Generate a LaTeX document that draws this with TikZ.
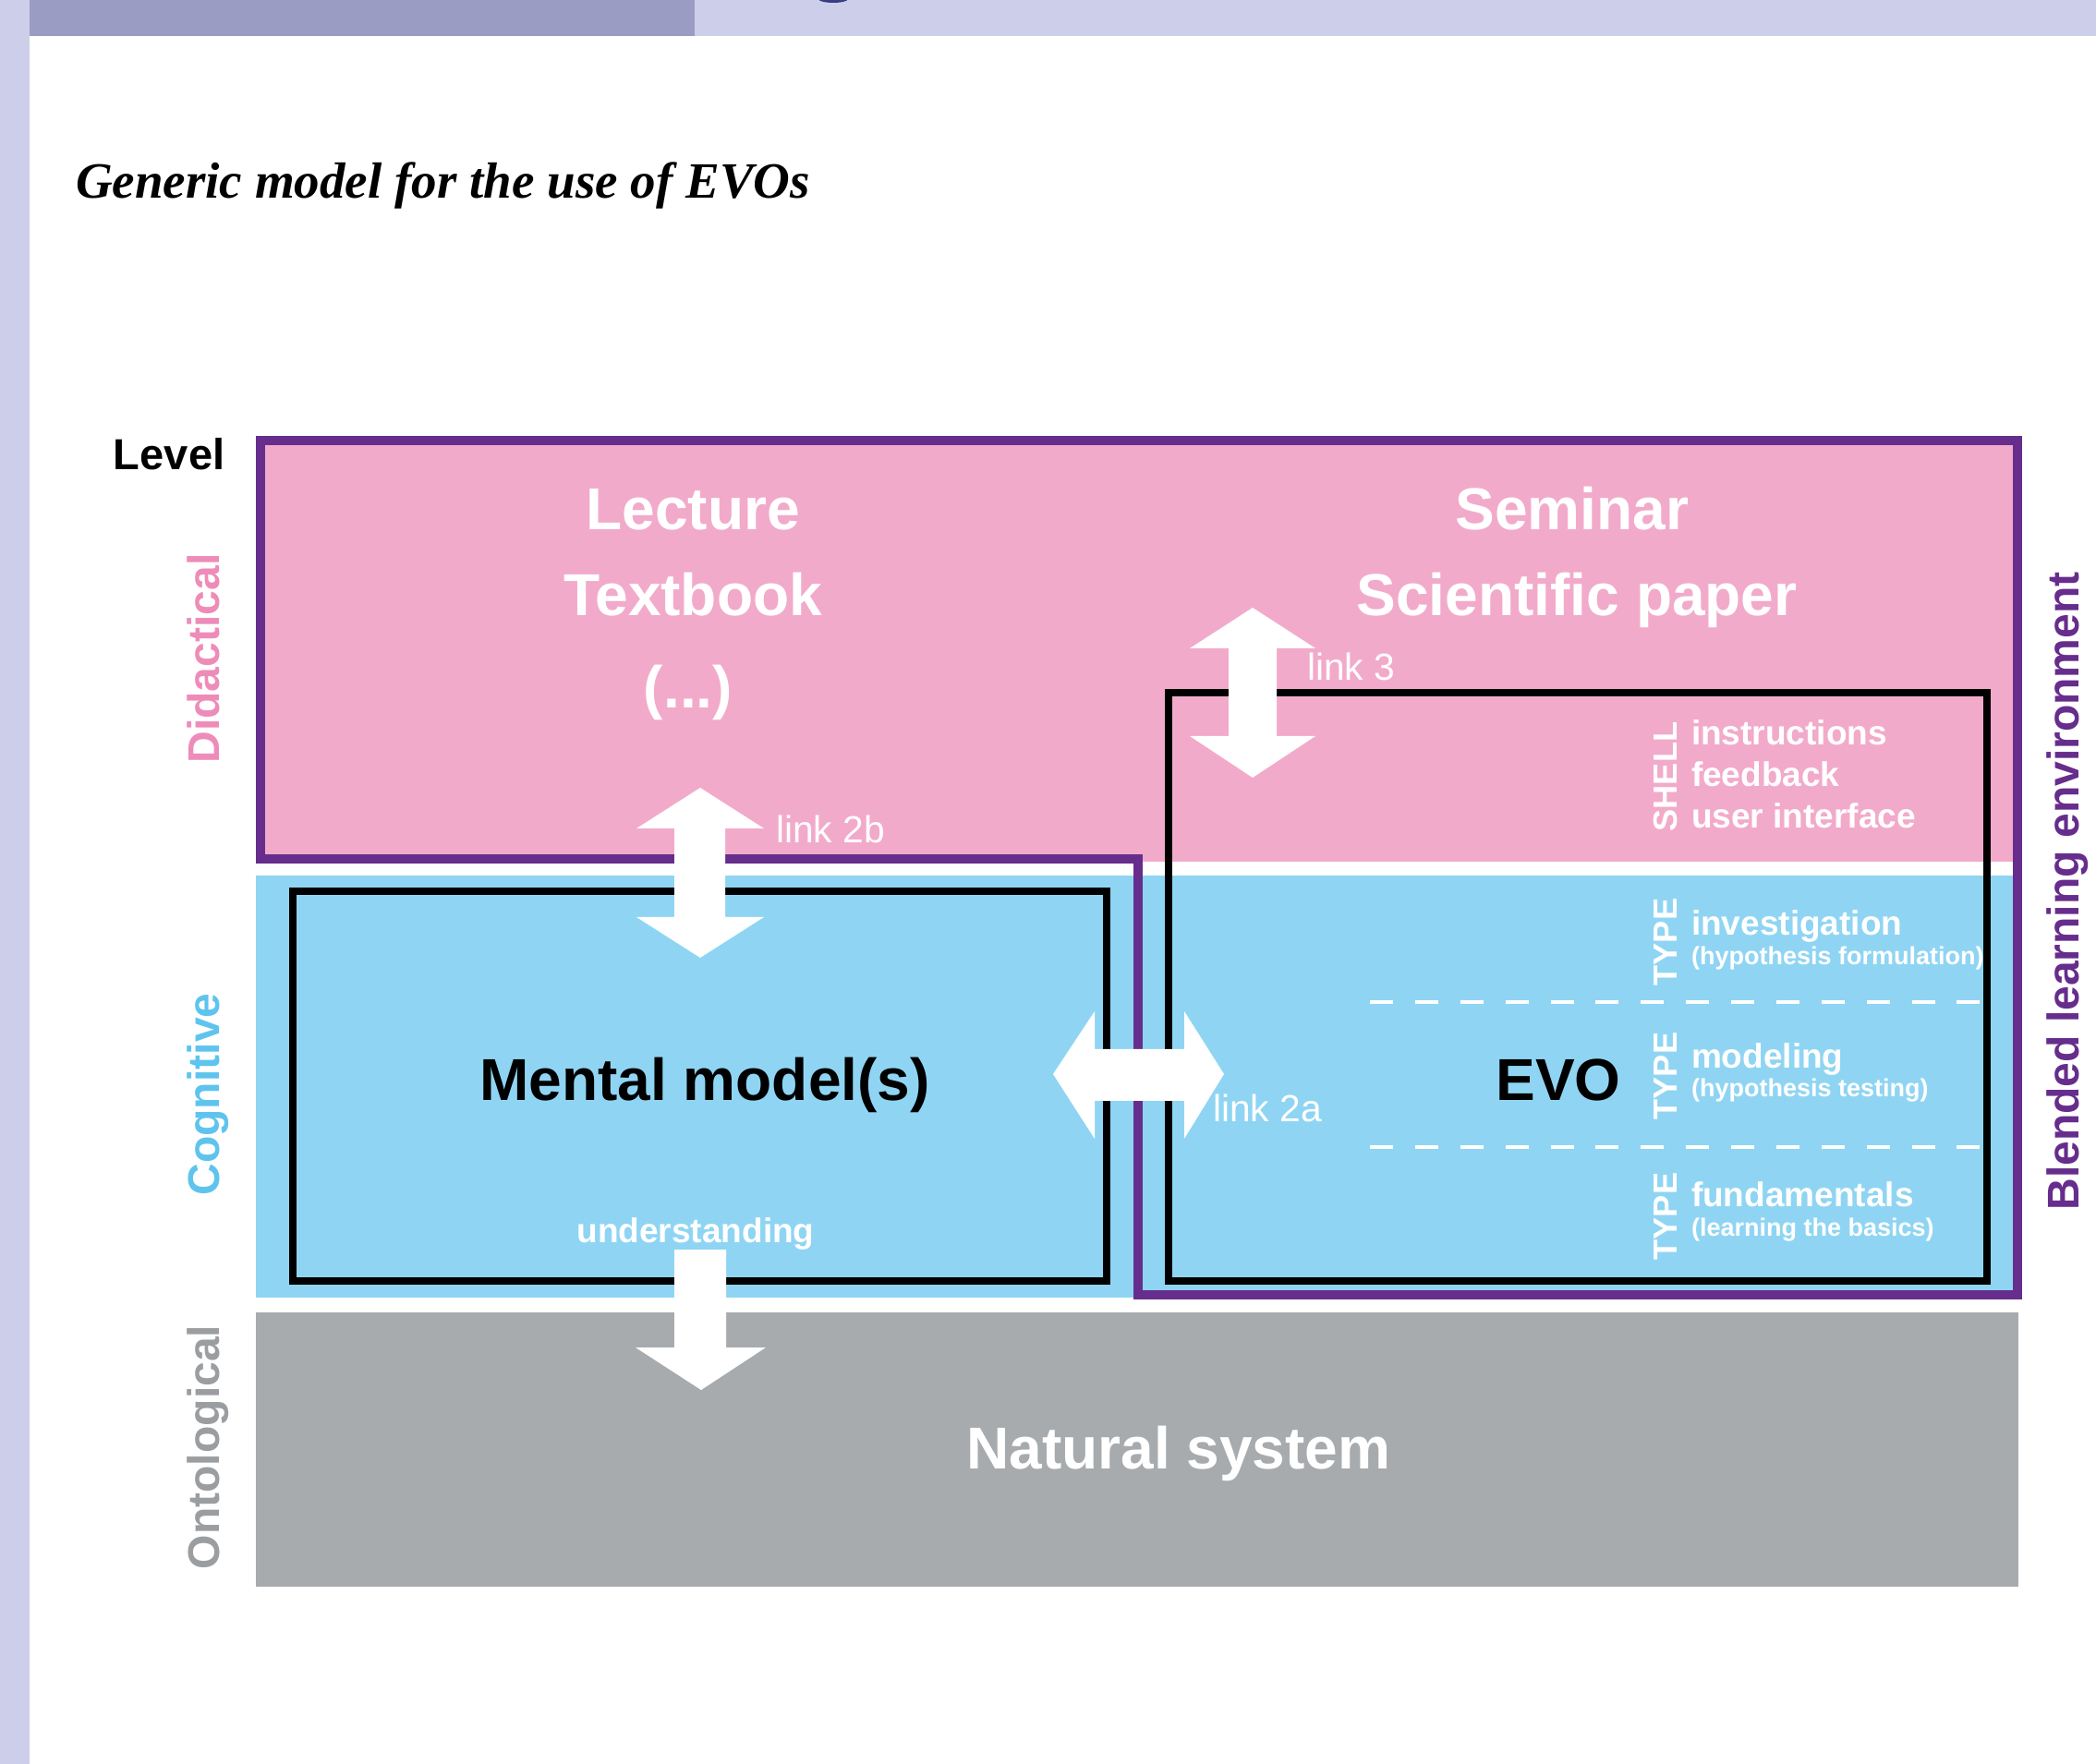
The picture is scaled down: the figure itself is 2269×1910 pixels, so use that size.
\documentclass[tikz,border=0pt]{standalone}
\usepackage{fontspec}
\setmainfont{Liberation Sans}
\newfontfamily\serifttl{Liberation Serif}
\definecolor{pinkfill}{HTML}{F2AACB}
\definecolor{bluefill}{HTML}{8FD5F3}
\definecolor{grayfill}{HTML}{A7ABAE}
\definecolor{purp}{HTML}{662D8C}
\definecolor{bardark}{HTML}{9A9CC4}
\definecolor{barlight}{HTML}{CDCFEA}
\definecolor{dotnavy}{HTML}{3A3C84}
\definecolor{didtext}{HTML}{EE8CB9}
\definecolor{cogtext}{HTML}{5EC4EE}
\definecolor{onttext}{HTML}{9B9EA1}
\begin{document}
\begin{tikzpicture}[x=0.01cm,y=-0.01cm,
  every node/.style={inner sep=0pt,outer sep=0pt},
  bigtxt/.style={font=\fontsize{18.21}{20}\selectfont\bfseries,anchor=base},
  leveltxt/.style={font=\fontsize{13.66}{15}\selectfont\bfseries,rotate=90,anchor=base},
  linktxt/.style={font=\fontsize{11.6}{13}\selectfont,text=white,anchor=base west},
  itemtxt/.style={font=\fontsize{10.53}{12}\selectfont\bfseries,text=white,anchor=base west},
  subtxt/.style={font=\fontsize{7.68}{9}\selectfont\bfseries,text=white,anchor=base west},
  tagtxt/.style={font=\fontsize{10.3}{12}\selectfont\bfseries,text=white,rotate=90,anchor=base},
  blackbox/.style={draw=black,line width=2.28pt},
  purpline/.style={draw=purp,line width=2.85pt,line join=miter},
  dashline/.style={draw=white,line width=1.2pt,dash pattern=on 7.1pt off 6.8pt},
  whitearrow/.style={fill=white}
]
\useasboundingbox (0,0) rectangle (2269,1910);
\fill[white] (0,0) rectangle (2269,1910);
% page frame
\fill[barlight] (0,0) rectangle (32,1910);
\fill[barlight] (32,0) rectangle (2269,39);
\fill[bardark] (32,0) rectangle (752,39);
\fill[dotnavy] (902,-1) ellipse [x radius=16, y radius=4];
% title
\node[anchor=base west,font=\serifttl\bfseries\itshape\fontsize{15.65}{18}\selectfont] (title) at (82,215) {Generic model for the use of EVOs};
% level bands
\fill[pinkfill] (282,477) rectangle (2184,933);
\fill[bluefill] (277,948) rectangle (2184,1405);
\fill[grayfill] (277,1421) rectangle (2185,1718);
% blended learning environment outline
\draw[purpline] (282,477) -- (2184,477) -- (2184,1402) -- (1232,1402) -- (1232,930) -- (282,930) -- cycle;
% boxes
\draw[blackbox] (317,965) rectangle (1198,1387);
\draw[blackbox] (1265,750) rectangle (2151,1387);
% dashed separators
\draw[dashline] (1483,1085) -- (2147,1085);
\draw[dashline] (1483,1242) -- (2147,1242);
% arrows
\fill[whitearrow] (758,853) -- (827,897) -- (785,897) -- (785,993) -- (827,993) -- (758,1037) -- (689,993) -- (730,993) -- (730,897) -- (689,897) -- cycle;
\fill[whitearrow] (1356,658) -- (1424,702) -- (1382,702) -- (1382,797) -- (1424,797) -- (1356,842) -- (1288,797) -- (1330,797) -- (1330,702) -- (1288,702) -- cycle;
\fill[whitearrow] (1140,1163) -- (1185,1095) -- (1185,1136) -- (1282,1136) -- (1282,1095) -- (1325,1163) -- (1282,1233) -- (1282,1192) -- (1185,1192) -- (1185,1233) -- cycle;
\fill[whitearrow] (730,1353) -- (786,1353) -- (786,1459) -- (829,1459) -- (759,1505) -- (688,1459) -- (730,1459) -- cycle;
% level labels
\node[font=\fontsize{13.37}{15}\selectfont\bfseries,anchor=base west] (level) at (123,509) {Level};
\node[leveltxt,text=didtext] (did) at (237,713) {Didactical};
\node[leveltxt,text=cogtext] (cog) at (237,1185) {Cognitive};
\node[leveltxt,text=onttext] (ont) at (237,1567) {Ontological};
\node[leveltxt,text=purp] (ble) at (2250,965) {Blended learning environment};
% didactical texts
\node[bigtxt,text=white] (lecture) at (750,574) {Lecture};
\node[bigtxt,text=white] (textbook) at (750,667) {Textbook};
\node[bigtxt,text=white] (etc) at (745,767) {(...)};
\node[bigtxt,text=white] (seminar) at (1702,574) {Seminar};
\node[bigtxt,text=white] (paper) at (1707,667) {Scientific paper};
% cognitive
\node[bigtxt,text=black] (mental) at (763,1192) {Mental model(s)};
\node[bigtxt,text=black] (evo) at (1687,1192) {EVO};
\node[bigtxt,text=white] (natural) at (1276,1590) {Natural system};
% link labels
\node[linktxt] (l2b) at (840,913) {link 2b};
\node[linktxt] (l3) at (1415,737) {link 3};
\node[linktxt] (l2a) at (1313,1215) {link 2a};
\node[font=\fontsize{10.53}{12}\selectfont\bfseries,text=white,anchor=base] (und) at (753,1345) {understanding};
% shell
\node[tagtxt] (shell) at (1815,841) {SHELL};
\node[itemtxt] (instr) at (1831,807) {instructions};
\node[itemtxt] (feed) at (1831,852) {feedback};
\node[itemtxt] (ui) at (1831,897) {user interface};
% types
\node[tagtxt] (type1) at (1815,1020) {TYPE};
\node[itemtxt] (inv) at (1831,1013) {investigation};
\node[subtxt] (invs) at (1831,1045) {(hypothesis formulation)};
\node[tagtxt] (type2) at (1815,1165) {TYPE};
\node[itemtxt] (mod) at (1831,1156) {modeling};
\node[subtxt] (mods) at (1831,1188) {(hypothesis testing)};
\node[tagtxt] (type3) at (1815,1317) {TYPE};
\node[itemtxt] (fund) at (1831,1307) {fundamentals};
\node[subtxt] (funds) at (1831,1339) {(learning the basics)};
\end{tikzpicture}
\end{document}
